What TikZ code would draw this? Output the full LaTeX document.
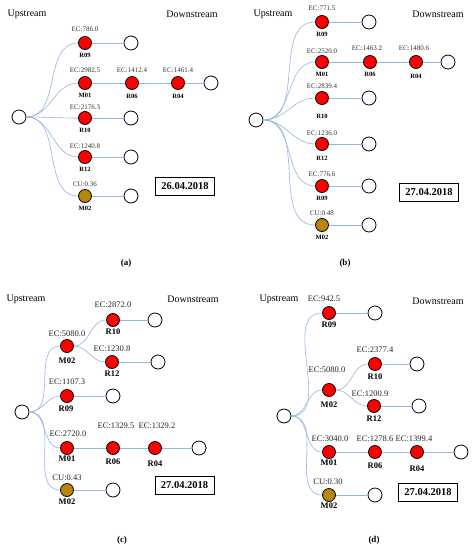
\documentclass[tikz,border=0pt]{standalone}
\usepackage{fontspec}
\setmainfont{Liberation Serif}
\begin{document}
\begin{tikzpicture}[x=1pt,y=-1pt,
  rn/.style={circle,draw=black,fill=red,minimum size=13pt,inner sep=0pt,line width=0.8pt},
  gn/.style={circle,draw=black,fill=goldc,minimum size=13pt,inner sep=0pt,line width=0.8pt},
  en/.style={circle,draw=black,fill=white,minimum size=14pt,inner sep=0pt,line width=0.8pt},
  la/.style={inner sep=0pt,font=\fontsize{7}{8}\selectfont,text=black!80},
  na/.style={inner sep=0pt,font=\fontsize{6.5}{7}\selectfont\bfseries},
  lc/.style={inner sep=0pt,font=\fontsize{8.5}{9}\selectfont,text=black!85},
  nc/.style={inner sep=0pt,font=\fontsize{8.5}{9}\selectfont\bfseries},
  hd/.style={inner sep=0pt,font=\fontsize{10}{11}\selectfont},
  dt/.style={draw=black,line width=0.8pt,minimum width=59pt,minimum height=18pt,inner sep=0pt,font=\fontsize{10.5}{11}\selectfont\bfseries},
  capt/.style={inner sep=0pt,font=\fontsize{9}{10}\selectfont\bfseries},
  ed/.style={draw=edgeblue,line width=0.6pt}]
\definecolor{goldc}{RGB}{184,134,11}
\definecolor{edgeblue}{RGB}{150,180,230}
\useasboundingbox (0,0) rectangle (474,550);
\fill[white] (0,0) rectangle (474,550);

% ---------------- (a)
\node[hd] (aup) at (27,14) {Upstream};
\node[hd] (adn) at (192,14) {Downstream};
\node[en] (a0) at (19,117) {};
\node[rn] (a1) at (85,43) {};
\node[en] (a1e) at (131,43) {};
\node[la] (a1l) at (85,29) {EC:786.0};
\node[na] (a1n) at (85,55) {R09};
\node[rn] (a2) at (85,83) {};
\node[rn] (a3) at (132,83) {};
\node[rn] (a4) at (178,83) {};
\node[en] (a4e) at (211,83) {};
\node[la] (a2l) at (85,70) {EC:2982.5};
\node[la] (a3l) at (132,70) {EC:1412.4};
\node[la] (a4l) at (178,70) {EC:1461.4};
\node[na] (a2n) at (85,95) {M01};
\node[na] (a3n) at (132,96) {R06};
\node[na] (a4n) at (178,96) {R04};
\node[rn] (a5) at (85,118) {};
\node[en] (a5e) at (131,118) {};
\node[la] (a5l) at (85,107) {EC:2176.3};
\node[na] (a5n) at (85,130) {R10};
\node[rn] (a6) at (85,157) {};
\node[en] (a6e) at (131,157) {};
\node[la] (a6l) at (85,146) {EC:1240.8};
\node[na] (a6n) at (85,169) {R12};
\node[gn] (a7) at (85,196) {};
\node[en] (a7e) at (131,196) {};
\node[la] (a7l) at (85,184) {CU:0.36};
\node[na] (a7n) at (85,208) {M02};
\node[dt] (adt) at (185,186) {26.04.2018};
\node[capt] (acap) at (126,263) {(a)};
\foreach \t in {a1,a2,a5,a6,a7} \draw[ed] (a0.east) to[out=0,in=180] (\t.west);
\draw[ed] (a1) -- (a1e); \draw[ed] (a2) -- (a3) -- (a4) -- (a4e);
\draw[ed] (a5) -- (a5e); \draw[ed] (a6) -- (a6e); \draw[ed] (a7) -- (a7e);

% ---------------- (b)
\node[hd] (bup) at (273,14) {Upstream};
\node[hd] (bdn) at (438,14) {Downstream};
\node[en] (b0) at (256,120) {};
\node[rn] (b1) at (322,22) {};
\node[en] (b1e) at (369,22) {};
\node[la] (b1l) at (322,8) {EC:771.5};
\node[na] (b1n) at (322,34) {R09};
\node[rn] (b2) at (322,62) {};
\node[rn] (b3) at (370,62) {};
\node[rn] (b4) at (416,62) {};
\node[en] (b4e) at (448,62) {};
\node[la] (b2l) at (322,51) {EC:2520.0};
\node[la] (b3l) at (367,48) {EC:1463.2};
\node[la] (b4l) at (414,48) {EC:1480.6};
\node[na] (b2n) at (322,74) {M01};
\node[na] (b3n) at (370,74) {R06};
\node[na] (b4n) at (416,76) {R04};
\node[rn] (b5) at (322,98) {};
\node[en] (b5e) at (369,98) {};
\node[la] (b5l) at (322,86) {EC:2839.4};
\node[na] (b5n) at (322,116) {R10};
\node[rn] (b6) at (322,144) {};
\node[en] (b6e) at (369,144) {};
\node[la] (b6l) at (322,133) {EC:1236.0};
\node[na] (b6n) at (322,158) {R12};
\node[rn] (b7) at (322,186) {};
\node[en] (b7e) at (369,186) {};
\node[la] (b7l) at (322,174) {EC:776.6};
\node[na] (b7n) at (322,198) {R09};
\node[gn] (b8) at (322,225) {};
\node[en] (b8e) at (369,225) {};
\node[la] (b8l) at (322,213) {CU:0.48};
\node[na] (b8n) at (322,237) {M02};
\node[dt] (bdt) at (429,192) {27.04.2018};
\node[capt] (bcap) at (345,263) {(b)};
\foreach \t in {b1,b2,b5,b6,b7,b8} \draw[ed] (b0.east) to[out=0,in=180] (\t.west);
\draw[ed] (b1) -- (b1e); \draw[ed] (b2) -- (b3) -- (b4) -- (b4e);
\draw[ed] (b5) -- (b5e); \draw[ed] (b6) -- (b6e); \draw[ed] (b7) -- (b7e); \draw[ed] (b8) -- (b8e);

% ---------------- (c)
\node[hd] (cup) at (26,299) {Upstream};
\node[hd] (cdn) at (193,299) {Downstream};
\node[en] (c0) at (22,412) {};
\node[rn] (c1) at (67,346) {};
\node[lc] (c1l) at (67,334) {EC:5080.0};
\node[nc] (c1n) at (67,361) {M02};
\node[rn] (c2) at (113,320) {};
\node[en] (c2e) at (155,320) {};
\node[lc] (c2l) at (113,305) {EC:2872.0};
\node[nc] (c2n) at (113,332) {R10};
\node[rn] (c3) at (112,362) {};
\node[en] (c3e) at (158,362) {};
\node[lc] (c3l) at (112,349) {EC:1230.8};
\node[nc] (c3n) at (112,374) {R12};
\node[rn] (c4) at (67,396) {};
\node[en] (c4e) at (113,396) {};
\node[lc] (c4l) at (67,382) {EC:1107.3};
\node[nc] (c4n) at (66,409) {R09};
\node[rn] (c5) at (67,448) {};
\node[rn] (c6) at (113,448) {};
\node[rn] (c7) at (155,448) {};
\node[en] (c7e) at (199,448) {};
\node[lc] (c5l) at (68,434) {EC:2720.0};
\node[lc] (c6l) at (116,426) {EC:1329.5};
\node[lc] (c7l) at (157,426) {EC:1329.2};
\node[nc] (c5n) at (67,459) {M01};
\node[nc] (c6n) at (113,462) {R06};
\node[nc] (c7n) at (155,464) {R04};
\node[gn] (c8) at (67,490) {};
\node[en] (c8e) at (113,490) {};
\node[lc] (c8l) at (67,478) {CU:0.43};
\node[nc] (c8n) at (67,502) {M02};
\node[dt] (cdt) at (184.5,485) {27.04.2018};
\node[capt] (ccap) at (122,540) {(c)};
\foreach \t in {c1,c4,c5,c8} \draw[ed] (c0.east) to[out=0,in=180] (\t.west);
\foreach \t in {c2,c3} \draw[ed] (c1.east) to[out=0,in=180] (\t.west);
\draw[ed] (c2) -- (c2e); \draw[ed] (c3) -- (c3e); \draw[ed] (c4) -- (c4e);
\draw[ed] (c5) -- (c6) -- (c7) -- (c7e); \draw[ed] (c8) -- (c8e);

% ---------------- (d)
\node[hd] (dup) at (279,299) {Upstream};
\node[hd] (ddn) at (438,301) {Downstream};
\node[en] (d0) at (284,416) {};
\node[rn] (d1) at (329,313) {};
\node[en] (d1e) at (375,313) {};
\node[lc] (d1l) at (324,299) {EC:942.5};
\node[nc] (d1n) at (329,325) {R09};
\node[rn] (d2) at (329,390) {};
\node[lc] (d2l) at (327,370) {EC:5080.0};
\node[nc] (d2n) at (329,405) {M02};
\node[rn] (d3) at (375,364) {};
\node[en] (d3e) at (417,364) {};
\node[lc] (d3l) at (375,350) {EC:2377.4};
\node[nc] (d3n) at (375,377) {R10};
\node[rn] (d4) at (374,406) {};
\node[en] (d4e) at (419,406) {};
\node[lc] (d4l) at (370,394) {EC:1200.9};
\node[nc] (d4n) at (374,419) {R12};
\node[rn] (d5) at (329,452) {};
\node[rn] (d6) at (375,452) {};
\node[rn] (d7) at (417,452) {};
\node[en] (d7e) at (461,452) {};
\node[lc] (d5l) at (330,439) {EC:3040.0};
\node[lc] (d6l) at (375,439) {EC:1278.6};
\node[lc] (d7l) at (414,439) {EC:1399.4};
\node[nc] (d5n) at (329,463) {M01};
\node[nc] (d6n) at (375,466) {R06};
\node[nc] (d7n) at (417,469) {R04};
\node[gn] (d8) at (329,495) {};
\node[en] (d8e) at (375,495) {};
\node[lc] (d8l) at (328,482) {CU:0.30};
\node[nc] (d8n) at (329,506) {M02};
\node[dt] (ddt) at (428,492) {27.04.2018};
\node[capt] (dcap) at (374,540) {(d)};
\foreach \t in {d1,d2,d5,d8} \draw[ed] (d0.east) to[out=0,in=180] (\t.west);
\foreach \t in {d3,d4} \draw[ed] (d2.east) to[out=0,in=180] (\t.west);
\draw[ed] (d1) -- (d1e); \draw[ed] (d3) -- (d3e); \draw[ed] (d4) -- (d4e);
\draw[ed] (d5) -- (d6) -- (d7) -- (d7e); \draw[ed] (d8) -- (d8e);
\end{tikzpicture}
\end{document}
